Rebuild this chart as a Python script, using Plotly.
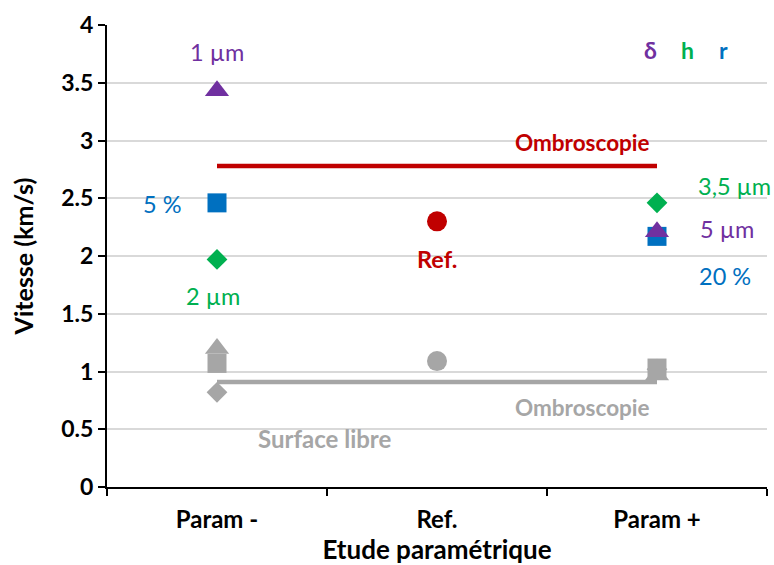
import plotly.graph_objects as go

categories = ["Param -", "Ref.", "Param +"]

# delta (purple triangles)
delta_x = ["Param -", "Param +"]
delta_y = [3.43, 2.21]
# h (green diamonds)
h_x = ["Param -", "Param +"]
h_y = [1.97, 2.46]
# r (blue squares)
r_x = ["Param -", "Param +"]
r_y = [2.46, 2.17]
# reference (red circle)
ref_x = ["Ref."]
ref_y = [2.30]

# free surface (grey)
gray_tri_x = ["Param -", "Param +"]
gray_tri_y = [1.20, 0.97]
gray_sq_x = ["Param -", "Param +"]
gray_sq_y = [1.07, 1.03]
gray_dia_x = ["Param -", "Param +"]
gray_dia_y = [0.82, 1.02]
gray_circ_x = ["Ref."]
gray_circ_y = [1.09]

# shadowgraphy (Ombroscopie) levels
ombro_x = ["Param -", "Param +"]
ombro_red_y = [2.78, 2.78]
ombro_gray_y = [0.91, 0.91]

PURPLE = "#7030A0"
GREEN = "#00B050"
BLUE = "#0070C0"
RED = "#C00000"
GRAY = "#A6A6A6"
FONT = "Lato"

fig = go.Figure()

fig.add_trace(go.Scatter(x=ombro_x, y=ombro_gray_y, mode="lines",
                         line=dict(color=GRAY, width=4.5)))
fig.add_trace(go.Scatter(x=gray_dia_x, y=gray_dia_y, mode="markers",
                         marker=dict(symbol="diamond", size=16, color=GRAY)))
fig.add_trace(go.Scatter(x=gray_tri_x, y=gray_tri_y, mode="markers",
                         marker=dict(symbol="triangle-up", size=21, color=GRAY)))
fig.add_trace(go.Scatter(x=gray_sq_x, y=gray_sq_y, mode="markers",
                         marker=dict(symbol="square", size=19, color=GRAY)))
fig.add_trace(go.Scatter(x=gray_circ_x, y=gray_circ_y, mode="markers",
                         marker=dict(symbol="circle", size=20, color=GRAY)))

fig.add_trace(go.Scatter(x=ombro_x, y=ombro_red_y, mode="lines",
                         line=dict(color=RED, width=4.5)))
fig.add_trace(go.Scatter(x=r_x, y=r_y, mode="markers",
                         marker=dict(symbol="square", size=19, color=BLUE)))
fig.add_trace(go.Scatter(x=h_x, y=h_y, mode="markers",
                         marker=dict(symbol="diamond", size=16, color=GREEN)))
fig.add_trace(go.Scatter(x=delta_x, y=delta_y, mode="markers",
                         marker=dict(symbol="triangle-up", size=21, color=PURPLE)))
fig.add_trace(go.Scatter(x=ref_x, y=ref_y, mode="markers",
                         marker=dict(symbol="circle", size=20, color=RED)))

labels = [
    (0.0, 3.77, "1 µm", PURPLE, False, 23.5),
    (-0.25, 2.45, "5 %", BLUE, False, 23.5),
    (-0.02, 1.65, "2 µm", GREEN, False, 23.5),
    (1.0, 1.97, "Ref.", RED, True, 23.5),
    (1.66, 2.98, "Ombroscopie", RED, True, 22.5),
    (2.35, 2.61, "3,5 µm", GREEN, False, 23.5),
    (2.32, 2.23, "5 µm", PURPLE, False, 23.5),
    (2.31, 1.83, "20 %", BLUE, False, 23.5),
    (1.66, 0.69, "Ombroscopie", GRAY, True, 22.5),
    (0.49, 0.42, "Surface libre", GRAY, True, 24),
    (1.97, 3.78, "δ", PURPLE, True, 23),
    (2.14, 3.78, "h", GREEN, True, 23),
    (2.30, 3.78, "r", BLUE, True, 23),
]
for lx, ly, txt, col, bold, sz in labels:
    fig.add_annotation(x=lx, y=ly, xref="x", yref="y", showarrow=False,
                       text=f"<b>{txt}</b>" if bold else txt,
                       font=dict(family=FONT, size=sz, color=col))

fig.update_layout(
    width=774, height=565,
    margin=dict(l=107, r=7, t=25, b=78),
    paper_bgcolor="white", plot_bgcolor="white",
    showlegend=False,
    font=dict(family=FONT, color="black"),
)
fig.update_xaxes(
    type="category", categoryorder="array", categoryarray=categories,
    range=[-0.5, 2.5], tickson="boundaries", automargin=False,
    showline=True, linecolor="black", linewidth=2,
    ticks="outside", ticklen=7, tickwidth=2, tickcolor="black",
    ticklabelstandoff=10,
    showgrid=False, zeroline=False,
    tickfont=dict(family=FONT, size=24, color="black"),
    tickprefix="<b>", ticksuffix="</b>",
    title=dict(text="<b>Etude paramétrique</b>", standoff=0,
               font=dict(family=FONT, size=26, color="black")),
)
fig.update_yaxes(
    range=[0, 4], tickmode="linear", tick0=0, dtick=0.5, automargin=False,
    showline=True, linecolor="black", linewidth=2,
    ticks="outside", ticklen=7, tickwidth=2, tickcolor="black",
    showgrid=True, gridcolor="#D9D9D9", gridwidth=1.5, zeroline=False,
    tickfont=dict(family=FONT, size=23, color="black"),
    tickprefix="<b>", ticksuffix="</b>",
    title=dict(text="<b>Vitesse (km/s)</b>", standoff=20,
               font=dict(family=FONT, size=25, color="black")),
)

fig.write_html("out.html", config={"displayModeBar": False},
               post_script="document.body.style.margin='0';")
